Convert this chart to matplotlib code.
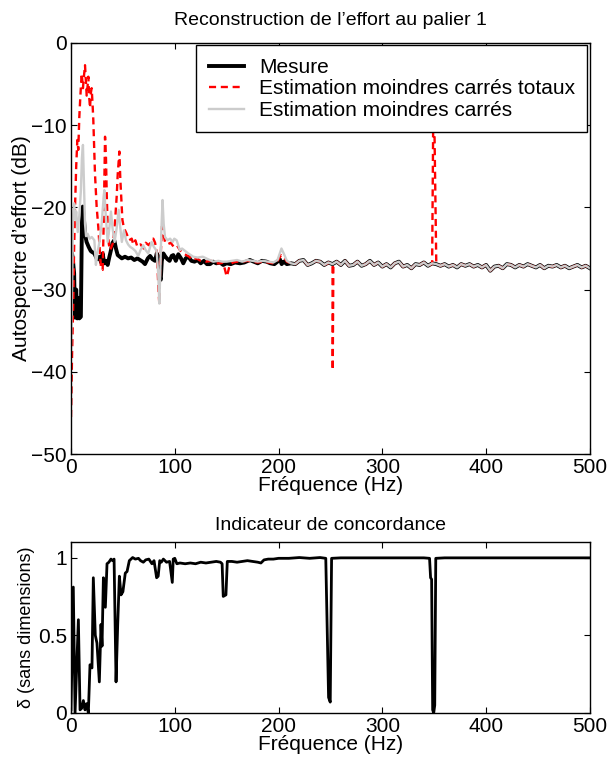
import numpy as np
import matplotlib
matplotlib.use("Agg")
import matplotlib.pyplot as plt

plt.rcParams['font.family'] = ['Liberation Sans', 'DejaVu Sans']

# ~~[ values ]~~
# Mesure (black), low frequency part
f_mes = [0, 1.5, 3, 3.8, 5, 6, 7, 8, 9.5, 10.5, 11.3, 12.5, 13.5, 15, 17, 19,
         20, 22.5, 25, 27.3, 29, 30.5, 32, 33.7, 35.3, 37, 38.5, 40, 41.7, 43.3,
         45, 47, 49, 52, 55, 58, 61, 64, 66.5, 69, 71.3, 74, 76.2, 78.5, 81,
         82.6, 84.5, 85.7, 86.5, 87.5, 89, 91, 93, 95, 97, 98.6, 101, 103.4,
         106, 108.2, 110.5, 113, 116, 119, 122, 125, 128, 131, 134, 137, 140,
         143.5, 146.7, 150, 154, 158, 162.8, 167, 172.4, 176, 180, 184, 188.4,
         192, 196, 199, 201.2, 203, 205, 208, 212]
mes = [-25, -26, -28, -33.4, -30, -33.5, -31, -33.5, -33.3, -22, -19.9, -21.5,
       -23.3, -24.2, -24.8, -25.3, -25.4, -25.6, -26.3, -26.0, -26.7, -25.6,
       -26.8, -26.5, -27.0, -26.0, -25.2, -24.3, -24.0, -25.0, -25.8, -26.0,
       -26.2, -26.0, -26.2, -26.1, -26.4, -26.2, -26.4, -26.6, -26.9, -26.2,
       -25.9, -26.3, -26.5, -25.6, -26.0, -28.5, -28.8, -26.5, -25.6, -26.0,
       -26.3, -26.5, -25.9, -25.8, -26.5, -25.7, -26.2, -26.8, -26.2, -26.0,
       -26.5, -26.6, -26.4, -26.8, -26.5, -26.9, -26.9, -26.6, -26.8, -26.7,
       -27.0, -26.8, -26.9, -26.7, -26.8, -26.7, -26.4, -26.6, -26.8, -26.5,
       -26.6, -26.8, -26.9, -26.6, -26.3, -26.9, -26.6, -26.9, -26.8]

# Estimation moindres carrés (grey), low frequency part
f_mc = [0, 1, 2, 3, 4, 5, 6.5, 8, 9.5, 10.5, 11.5, 12.5, 13.5, 14.5, 16, 18,
        20, 22.5, 24, 25.5, 27, 29.5, 31, 32.1, 33.5, 35.3, 37, 38.5, 40, 42,
        44, 45.9, 47.5, 49, 51, 53, 55, 57, 59.4, 62, 64.8, 67, 69.6, 72, 74.4,
        77.7, 79.8, 81, 82.5, 84, 85.1, 86, 87, 88.2, 89.3, 90.6, 93, 95.5, 98,
        99.5, 101.8, 104.9, 107, 110, 113, 117.8, 122, 127, 132, 137, 142, 146,
        150, 155, 160, 165, 170, 175, 180, 185, 190, 195, 199, 202.8, 205, 208,
        212]
mc = [-37.5, -30, -21, -19.5, -21.5, -20.5, -23, -21, -18, -14, -12.4, -17,
      -22, -23.5, -23.2, -23.8, -23.6, -24.0, -27.0, -25.5, -24.5, -22.0,
      -19.5, -17.9, -21, -24.2, -22.5, -20.5, -22.5, -24.2, -22.5, -20.3,
      -22.5, -24.2, -22.8, -24.0, -24.5, -24.8, -25.0, -25.3, -25.9, -25.2,
      -24.6, -25.2, -25.6, -24.2, -24.8, -25.0, -25.3, -28, -31.7, -28, -23,
      -19.1, -22, -23.6, -24.0, -23.8, -24.2, -23.8, -24.0, -25.2, -25.0,
      -25.3, -25.6, -26.0, -26.1, -26.0, -26.3, -26.6, -26.5, -26.6, -26.6,
      -26.5, -26.4, -26.6, -26.4, -26.5, -26.6, -26.5, -26.6, -26.7, -26.4,
      -25.0, -25.6, -26.5, -26.8]

# Estimation moindres carrés totaux (red dashed), low frequency part
f_mct = [0, 1, 2.2, 3, 3.9, 5, 6.1, 7, 8, 9, 10.3, 11.5, 12.5, 13.5, 14.5,
         15.1, 16, 16.7, 17.5, 18.3, 19.2, 19.9, 20.8, 21.5, 23.1, 24.7, 26.3,
         27.9, 29, 30.5, 31.5, 32.3, 32.8, 33.7, 34.5, 35.5, 36.5, 37.6, 39,
         40.5, 42, 43, 44, 45, 46.6, 47.5, 48.5, 49.5, 51, 53.6, 56, 58.5, 60,
         62, 64, 67, 70, 72, 75, 77.7, 79.3, 81, 82.8, 84.1, 85.1, 86, 87.7,
         88.8, 90.6, 93, 96, 99, 102, 105, 108, 111, 114, 117, 121, 125, 130,
         135, 140, 144, 146.7, 148, 150, 151, 153, 156, 160, 165, 170, 175,
         180, 185, 190, 195, 199, 202.5, 205, 208, 212]
mct = [-45.5, -38, -31.3, -25, -19.9, -15, -11.8, -13, -9, -6.5, -3.7, -5.5,
       -4, -2.7, -5, -6.4, -5.2, -4.1, -6.5, -7.9, -6, -5.5, -7.5, -9.4, -15.9,
       -19.9, -22.4, -25.6, -27.5, -27.6, -22, -15, -11.4, -14, -18.8, -23,
       -24.5, -25.2, -24.8, -24.3, -22.5, -20.5, -18.7, -16, -13.2, -16.5, -19,
       -21.5, -22.5, -23.2, -24.0, -23.8, -24.5, -24.0, -24.8, -24.5, -25.0,
       -24.3, -24.6, -24.0, -23.8, -24.3, -25.5, -29.5, -31.8, -27, -22.3, -23,
       -24.2, -24.5, -24.3, -24.8, -24.6, -25.2, -25.6, -25.8, -26.0, -26.4,
       -26.2, -26.5, -26.6, -26.5, -26.8, -26.8, -26.7, -27.4, -28.4, -28.0,
       -27.0, -26.7, -26.6, -26.6, -26.5, -26.6, -26.7, -26.6, -26.7, -26.8,
       -26.5, -25.8, -26.0, -26.6, -26.8]

# high frequency part, where the three spectra are on top of each other
f_hf = [216, 220, 224, 228, 232, 236, 240, 244, 248, 252, 256, 260, 264, 268,
        272, 276, 280, 284, 288, 292, 296, 300, 304, 308, 312, 316, 320, 324,
        328, 332, 336, 340, 344, 348, 352, 356, 360, 364, 368, 372, 376, 380,
        384, 388, 392, 396, 400, 404, 408, 412, 416, 420, 424, 428, 432, 436,
        440, 444, 448, 452, 456, 460, 464, 468, 472, 476, 480, 484, 488, 492,
        496, 500]
hf = [-26.9, -26.5, -26.4, -27.0, -26.8, -26.5, -26.6, -27.0, -26.7, -26.9,
      -26.6, -27.0, -26.5, -27.1, -27.0, -26.6, -27.1, -26.9, -26.5, -27.0,
      -26.7, -27.2, -26.9, -27.3, -26.8, -26.6, -27.2, -27.0, -27.4, -26.9,
      -27.0, -26.7, -27.1, -26.8, -26.9, -27.1, -26.9, -27.2, -27.0, -27.3,
      -26.9, -27.1, -26.9, -27.2, -27.0, -27.3, -27.0, -27.7, -27.2, -27.1,
      -27.4, -26.9, -27.0, -27.3, -27.0, -27.2, -26.9, -27.1, -27.3, -27.0,
      -27.4, -27.1, -27.2, -27.0, -27.3, -27.1, -27.4, -27.2, -27.0, -27.3,
      -27.1, -27.4]

# the two artefacts of the total least squares estimate
f_mct_art = [247.5, 252.2, 252.8, 347.5, 349, 350.2, 352.8]
mct_art = [-26.8, -39.8, -27.2, -26.9, -10.0, -10.3, -26.9]

# indicateur de concordance
f_delta = [0, 2.2, 3.9, 7.1, 8.7, 10.3, 11.9, 13.5, 15, 16.7, 18.3, 20.2, 21.5,
           23.4, 25, 27.3, 28.9, 29.9, 31.2, 33.1, 34.7, 36.5, 38.5, 40, 41.5,
           43.4, 45, 46.6, 48.2, 50, 52.3, 54, 56.2, 59.4, 62, 65, 67, 69.7,
           72, 75, 78, 80, 82.5, 84, 85.5, 87, 89, 92, 95, 97.6, 98.5, 100,
           102, 105, 110, 115, 120, 125, 130, 135, 140, 144, 145.6, 146.7,
           149.3, 150.6, 155, 160, 165, 170, 175, 180, 183, 186, 190, 195,
           200, 210, 220, 230, 240, 245.5, 248.2, 249.8, 251.1, 260, 280, 300,
           320, 340, 345.5, 346.5, 347.5, 348.5, 349.5, 350.5, 351.5, 360, 380,
           400, 420, 440, 460, 480, 500]
delta = [0.02, 0.81, 0.0, 0.60, 0.02, 0.03, 0.08, 0.02, 0.06, 0.0, 0.31, 0.29,
         0.87, 0.50, 0.45, 0.2, 0.57, 0.43, 0.87, 0.68, 0.96, 0.97, 0.99, 0.98,
         0.99, 0.2, 0.57, 0.88, 0.76, 0.78, 0.9, 0.91, 0.98, 1.0, 0.99, 0.995,
         0.98, 0.97, 0.985, 0.99, 0.96, 0.98, 0.87, 0.88, 0.98, 0.97, 0.99,
         0.97, 0.975, 0.84, 0.99, 0.995, 0.96, 0.965, 0.96, 0.965, 0.96, 0.97,
         0.965, 0.97, 0.975, 0.97, 0.96, 0.75, 0.76, 0.975, 0.975, 0.97,
         0.975, 0.98, 0.975, 0.97, 0.965, 0.985, 0.99, 0.99, 0.995, 0.995,
         1.0, 0.995, 1.0, 0.995, 0.1, 0.07, 0.995, 0.998, 0.998, 0.998, 0.998,
         0.998, 0.995, 0.87, 0.86, 0.02, 0.0, 0.05, 0.995, 0.998, 0.998,
         0.998, 0.998, 0.998, 0.998, 0.998, 0.998]

xticks = [0, 100, 200, 300, 400, 500]
FS = 15


def spectrum(f_lo, v_lo, f_extra=(), v_extra=()):
    # low frequency part + shared high frequency part (+ artefacts), sorted
    f = np.concatenate([f_lo, f_hf, f_extra])
    v = np.concatenate([v_lo, hf, v_extra])
    i = np.argsort(f, kind='stable')
    return f[i], v[i]


def style_axes(ax):
    ax.tick_params(direction='in', top=True, right=True, length=4,
                   width=0.8, labelsize=FS, pad=3)
    for s in ax.spines.values():
        s.set_linewidth(1.0)


fig = plt.figure(figsize=(6.09, 7.65), dpi=100)
ax1 = fig.add_axes([0.1166, 0.4065, 0.852, 0.5373])
ax2 = fig.add_axes([0.1166, 0.068, 0.852, 0.2235])

fm, vm = spectrum(f_mes, mes)
ft, vt = spectrum(f_mct, mct, f_mct_art, mct_art)
fc, vc = spectrum(f_mc, mc)

ax1.plot(fm, vm, color='k', lw=2.8, label='Mesure')
ax1.plot(ft, vt, color='r', lw=1.7, ls=(0, (3, 2)),
         label='Estimation moindres carrés totaux')
ax1.plot(fc, vc, color='#cccccc', lw=1.7, label='Estimation moindres carrés')
ax1.set_xlim(0, 500)
ax1.set_ylim(-50, 0)
ax1.set_xticks(xticks)
ax1.set_yticks([-50, -40, -30, -20, -10, 0])
style_axes(ax1)
ax1.set_title('Reconstruction de l’effort au palier 1', fontsize=14, pad=13)
ax1.set_xlabel('Fréquence (Hz)', fontsize=FS, labelpad=-1)
ax1.set_ylabel('Autospectre d’effort (dB)', fontsize=FS, labelpad=0)
leg = ax1.legend(loc='upper right', fontsize=FS, frameon=True, fancybox=False,
                 borderaxespad=0.12, handlelength=1.7, handletextpad=0.7,
                 labelspacing=0.12, borderpad=0.6)
leg.get_frame().set_edgecolor('k')
leg.get_frame().set_linewidth(1.0)
leg.get_frame().set_alpha(1)

ax2.plot(f_delta, delta, color='k', lw=2.0)
ax2.set_xlim(0, 500)
ax2.set_ylim(0, 1.1)
ax2.set_xticks(xticks)
ax2.set_yticks([0, 0.5, 1])
ax2.set_yticklabels(['0', '0.5', '1'])
style_axes(ax2)
ax2.set_title('Indicateur de concordance', fontsize=14, pad=9)
ax2.set_xlabel('Fréquence (Hz)', fontsize=FS, labelpad=-1)
ax2.set_ylabel('δ (sans dimensions)', fontsize=13, labelpad=2)

fig.savefig('out.png', dpi=100)
